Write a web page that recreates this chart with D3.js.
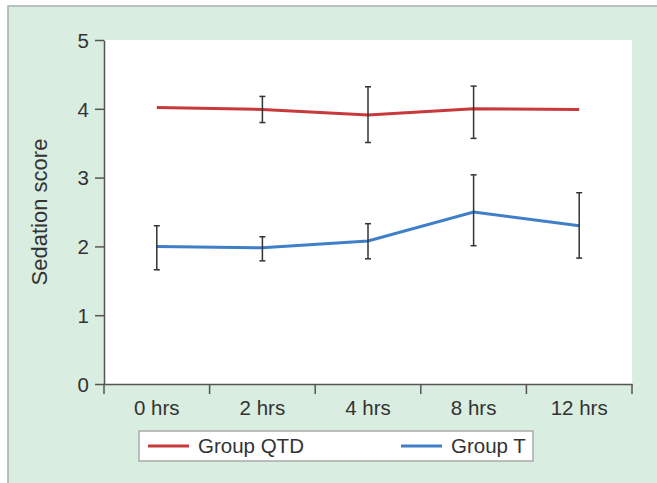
<!DOCTYPE html>
<html>
<head>
<meta charset="utf-8">
<script src="https://cdn.jsdelivr.net/npm/d3@7"></script>
<style>
  body { margin: 0; background: #fff; }
  svg { display: block; font-family: "Liberation Sans", Arial, sans-serif; }
</style>
</head>
<body>
<div class="viz"></div>
<script>
const width = 657;
const height = 483;

// data
const times = ["0 hrs", "2 hrs", "4 hrs", "8 hrs", "12 hrs"];
const yTicks = [0, 1, 2, 3, 4, 5];

const qtdMean = [4.02, 3.99, 3.91, 4.00, 3.99];
const qtdLow  = [null, 3.80, 3.51, 3.57, null];
const qtdHigh = [null, 4.18, 4.32, 4.33, null];

const tMean = [2.00, 1.98, 2.08, 2.50, 2.30];
const tLow  = [1.66, 1.79, 1.82, 2.01, 1.83];
const tHigh = [2.30, 2.14, 2.33, 3.04, 2.78];

const seriesNames = ["Group QTD", "Group T"];
const colors = ["#c8393b", "#3f7fc8"];

const svg = d3.select(".viz")
    .append("svg")
    .attr("width", width)
    .attr("height", height);

// green panel behind everything
svg.append("rect")
    .attr("x", 8)
    .attr("y", 6)
    .attr("width", 700)
    .attr("height", 520)
    .attr("fill", "#d9ede1")
    .attr("stroke", "#a8aeaa")
    .attr("stroke-width", 1.5);

const margin = { left: 104, right: 632, top: 40, bottom: 384 };

const x = d3.scaleBand()
    .domain(times)
    .range([margin.left, margin.right]);

const y = d3.scaleLinear()
    .domain([0, 5])
    .range([margin.bottom, margin.top]);

// white plot area
svg.append("rect")
    .attr("x", margin.left)
    .attr("y", margin.top)
    .attr("width", margin.right - margin.left)
    .attr("height", margin.bottom - margin.top)
    .attr("fill", "#fff");

// axes
const yAxis = svg.append("g")
    .attr("transform", `translate(${margin.left},0)`)
    .call(d3.axisLeft(y).tickValues(yTicks).tickFormat(d3.format("d"))
        .tickSize(9).tickSizeOuter(0).tickPadding(6));

const xAxis = svg.append("g")
    .attr("transform", `translate(0,${margin.bottom})`)
    .call(d3.axisBottom(x).tickSize(0).tickSizeOuter(0).tickPadding(16));

// x ticks sit on the band edges
xAxis.selectAll(".edge")
    .data(d3.range(times.length + 1))
    .enter()
    .append("line")
    .attr("class", "edge")
    .attr("x1", i => margin.left + i * x.bandwidth())
    .attr("x2", i => margin.left + i * x.bandwidth())
    .attr("y1", 0)
    .attr("y2", 10);

[xAxis, yAxis].forEach(g => {
    g.selectAll("path, line").attr("stroke", "#555").attr("stroke-width", 1.5);
    g.selectAll("text").attr("fill", "#333").style("font-size", "20.5px");
});
yAxis.selectAll(".tick text").attr("dy", "0.36em");

// y axis title
svg.append("text")
    .attr("transform", `translate(47,${(margin.top + margin.bottom) / 2}) rotate(-90)`)
    .attr("text-anchor", "middle")
    .attr("fill", "#333")
    .style("font-size", "22px")
    .text("Sedation score");

const cx = d => x(d) + x.bandwidth() / 2;

const groups = [
    { mean: qtdMean, low: qtdLow, high: qtdHigh, color: colors[0] },
    { mean: tMean, low: tLow, high: tHigh, color: colors[1] }
];

const line = d3.line()
    .x(d => cx(d.t))
    .y(d => y(d.v));

groups.forEach(g => {
    const pts = times.map((t, i) => ({ t: t, v: g.mean[i], lo: g.low[i], hi: g.high[i] }));

    svg.append("path")
        .datum(pts)
        .attr("d", line)
        .attr("fill", "none")
        .attr("stroke", g.color)
        .attr("stroke-width", 3);

    const bars = pts.filter(d => d.lo != null);
    const eb = svg.append("g")
        .attr("stroke", "#333")
        .attr("stroke-width", 1.5);

    eb.selectAll(".err")
        .data(bars)
        .enter()
        .append("line")
        .attr("x1", d => cx(d.t))
        .attr("x2", d => cx(d.t))
        .attr("y1", d => y(d.lo))
        .attr("y2", d => y(d.hi));

    ["lo", "hi"].forEach(k => {
        eb.selectAll(".cap-" + k)
            .data(bars)
            .enter()
            .append("line")
            .attr("x1", d => cx(d.t) - 3)
            .attr("x2", d => cx(d.t) + 3)
            .attr("y1", d => y(d[k]))
            .attr("y2", d => y(d[k]));
    });
});

// legend
const legend = svg.append("g");
legend.append("rect")
    .attr("x", 139)
    .attr("y", 431)
    .attr("width", 394)
    .attr("height", 30)
    .attr("fill", "#fff")
    .attr("stroke", "#aaa")
    .attr("stroke-width", 1.5);

const legendX = [148, 401];
seriesNames.forEach((name, i) => {
    legend.append("line")
        .attr("x1", legendX[i])
        .attr("x2", legendX[i] + 41)
        .attr("y1", 446)
        .attr("y2", 446)
        .attr("stroke", colors[i])
        .attr("stroke-width", 3);
    legend.append("text")
        .attr("x", legendX[i] + 50)
        .attr("y", 446)
        .attr("dy", "0.36em")
        .attr("fill", "#333")
        .style("font-size", "20.5px")
        .text(name);
});
</script>
</body>
</html>
